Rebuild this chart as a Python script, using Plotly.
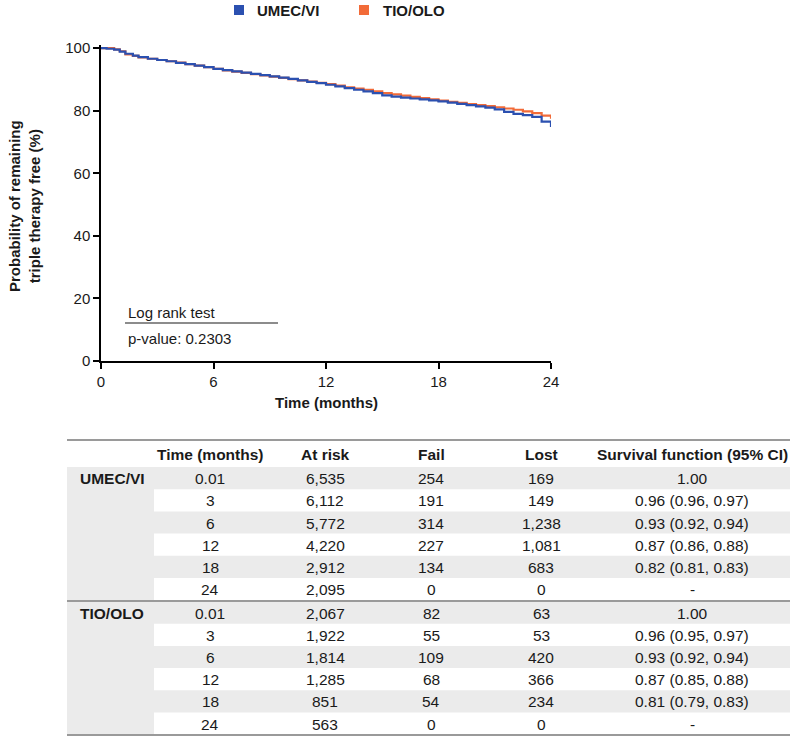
import plotly.graph_objects as go

# ---------------- data ----------------
months = [0, 0.3, 0.7, 1.0, 1.3, 1.7, 2.0, 2.5, 3, 3.5, 4, 4.5, 5, 5.5, 6, 6.5, 7, 7.5, 8, 8.5,
          9, 9.5, 10, 10.5, 11, 11.5, 12, 12.5, 13, 13.5, 14, 14.5, 15, 15.5, 16, 16.5, 17, 17.5,
          18, 18.5, 19, 19.5, 20, 20.5, 21, 21.5, 22, 22.5, 23, 23.5, 24]
umec_vi = [100, 99.8, 99.5, 98.9, 98.2, 97.6, 97.1, 96.6, 96.2, 95.8, 95.3, 94.9, 94.4, 93.9,
           93.4, 93.0, 92.6, 92.2, 91.8, 91.4, 91.0, 90.6, 90.2, 89.7, 89.2, 88.8, 88.3, 87.8,
           87.2, 86.7, 86.2, 85.6, 84.9, 84.5, 84.2, 83.9, 83.6, 83.3, 83.0, 82.6, 82.2, 81.8,
           81.4, 81.0, 80.4, 79.6, 79.0, 78.6, 78.0, 76.5, 74.8]
tio_olo = [100, 100, 99.6, 99.0, 98.0, 97.5, 97.0, 96.6, 96.2, 95.8, 95.4, 94.9, 94.4, 93.9,
           93.4, 92.9, 92.5, 92.1, 91.7, 91.3, 90.9, 90.5, 90.1, 89.7, 89.3, 88.9, 88.5, 88.0,
           87.5, 87.1, 86.7, 86.2, 85.6, 85.2, 84.8, 84.4, 84.0, 83.6, 83.2, 82.8, 82.5, 82.1,
           81.8, 81.5, 81.1, 80.7, 80.3, 79.8, 79.2, 78.4, 77.4]

x_ticks = [0, 6, 12, 18, 24]
y_ticks = [0, 20, 40, 60, 80, 100]

groups = ["UMEC/VI", "TIO/OLO"]
table_header = ["Time (months)", "At risk", "Fail", "Lost", "Survival function (95% CI)"]
time_points = ["0.01", "3", "6", "12", "18", "24"]
umec_at_risk = [6535, 6112, 5772, 4220, 2912, 2095]
umec_fail = [254, 191, 314, 227, 134, 0]
umec_lost = [169, 149, 1238, 1081, 683, 0]
umec_surv = ["1.00", "0.96 (0.96, 0.97)", "0.93 (0.92, 0.94)", "0.87 (0.86, 0.88)",
             "0.82 (0.81, 0.83)", "-"]
tio_at_risk = [2067, 1922, 1814, 1285, 851, 563]
tio_fail = [82, 55, 109, 68, 54, 0]
tio_lost = [63, 53, 420, 366, 234, 0]
tio_surv = ["1.00", "0.96 (0.95, 0.97)", "0.93 (0.92, 0.94)", "0.87 (0.85, 0.88)",
            "0.81 (0.79, 0.83)", "-"]

BLUE = "#2b50b0"
ORANGE = "#f26b38"
TXT = "#1a1a1a"
FONT = "Liberation Sans, Arial, sans-serif"
TFS = 15.5

W, H = 792, 737
L, R, T, B = 101, 241, 45, 376
PW = W - L - R
PH = H - T - B


def px(xp):
    return (xp - L) / PW


def py(yp):
    return (H - B - yp) / PH


fig = go.Figure()
fig.add_trace(go.Scatter(x=months, y=tio_olo, mode="lines", line_shape="hv",
                         line=dict(color=ORANGE, width=2.2), name="TIO/OLO", showlegend=False))
fig.add_trace(go.Scatter(x=months, y=umec_vi, mode="lines", line_shape="hv",
                         line=dict(color=BLUE, width=2.2), name="UMEC/VI", showlegend=False))

shapes = []
ann = []

# legend
shapes.append(dict(type="rect", xref="paper", yref="paper", x0=px(234), x1=px(244),
                   y0=py(15), y1=py(5), fillcolor=BLUE, line=dict(width=0)))
ann.append(dict(xref="paper", yref="paper", x=px(255), y=py(10), text="<b>UMEC/VI</b>",
                showarrow=False, xanchor="left", yanchor="middle", font=dict(size=15, color=TXT)))
shapes.append(dict(type="rect", xref="paper", yref="paper", x0=px(359), x1=px(369),
                   y0=py(15), y1=py(5), fillcolor=ORANGE, line=dict(width=0)))
ann.append(dict(xref="paper", yref="paper", x=px(381), y=py(10), text="<b>TIO/OLO</b>",
                showarrow=False, xanchor="left", yanchor="middle", font=dict(size=15, color=TXT)))

# y-axis title (two lines)
ann.append(dict(xref="paper", yref="paper", x=px(24), y=py(206),
                text="<b>Probability of remaining<br>triple therapy free (%)</b>",
                showarrow=False, textangle=-90, xanchor="center", yanchor="middle",
                font=dict(size=15, color=TXT)))
# x-axis title
ann.append(dict(xref="paper", yref="paper", x=px(326), y=py(402), text="<b>Time (months)</b>",
                showarrow=False, xanchor="center", yanchor="middle", font=dict(size=15, color=TXT)))

# log-rank box
ann.append(dict(xref="paper", yref="paper", x=px(126), y=py(312), text="Log rank test",
                showarrow=False, xanchor="left", yanchor="middle", font=dict(size=15, color=TXT)))
shapes.append(dict(type="line", xref="paper", yref="paper", x0=px(125), x1=px(278),
                   y0=py(323), y1=py(323), line=dict(color="#666666", width=1.5)))
ann.append(dict(xref="paper", yref="paper", x=px(126), y=py(338), text="p-value: 0.2303",
                showarrow=False, xanchor="left", yanchor="middle", font=dict(size=15, color=TXT)))

# ---------------- table ----------------
TL, TR = 67, 790
col_centers = [112, 210, 325, 431, 541, 692]
GRAY = "#ebebeb"
LINE = "#9a9a9a"
row_h = 22.2
header_y = 454
g_tops = [467, 601.5]

group_rows = [
    (umec_at_risk, umec_fail, umec_lost, umec_surv),
    (tio_at_risk, tio_fail, tio_lost, tio_surv),
]

for gi, (gname, rows) in enumerate(zip(groups, group_rows)):
    top = g_tops[gi]
    bottom = top + 6 * row_h
    shapes.append(dict(type="rect", xref="paper", yref="paper", x0=px(TL), x1=px(154),
                       y0=py(bottom), y1=py(top), fillcolor=GRAY, line=dict(width=0), layer="below"))
    at_risk, fail, lost, surv = rows
    for ri in range(6):
        rt = top + ri * row_h
        if ri % 2 == 0:
            shapes.append(dict(type="rect", xref="paper", yref="paper", x0=px(154), x1=px(TR),
                               y0=py(rt + row_h), y1=py(rt), fillcolor=GRAY,
                               line=dict(width=0), layer="below"))
        yc = rt + row_h / 2 + 0.5
        vals = [time_points[ri], f"{at_risk[ri]:,}", f"{fail[ri]:,}", f"{lost[ri]:,}", surv[ri]]
        for ci, v in enumerate(vals):
            ann.append(dict(xref="paper", yref="paper", x=px(col_centers[ci + 1]), y=py(yc),
                            text=v, showarrow=False, xanchor="center", yanchor="middle",
                            font=dict(size=TFS, color=TXT)))
    ann.append(dict(xref="paper", yref="paper", x=px(col_centers[0]), y=py(top + row_h / 2 + 0.5),
                    text=f"<b>{gname}</b>", showarrow=False, xanchor="center", yanchor="middle",
                    font=dict(size=TFS, color=TXT)))

for ci, h in enumerate(table_header):
    ann.append(dict(xref="paper", yref="paper", x=px(col_centers[ci + 1]), y=py(header_y),
                    text=f"<b>{h}</b>", showarrow=False, xanchor="center", yanchor="middle",
                    font=dict(size=TFS, color=TXT)))

for ly in [440, 601, 735]:
    shapes.append(dict(type="line", xref="paper", yref="paper", x0=px(TL), x1=px(TR),
                       y0=py(ly), y1=py(ly), line=dict(color=LINE, width=2)))

fig.update_layout(
    width=W, height=H,
    margin=dict(l=L, r=R, t=T, b=B, pad=0),
    paper_bgcolor="white", plot_bgcolor="white",
    font=dict(family=FONT, size=15, color=TXT),
    showlegend=False,
    shapes=shapes,
    annotations=ann,
    xaxis=dict(range=[0, 24], tickvals=x_ticks, ticktext=[str(v) for v in x_ticks],
               showgrid=False, zeroline=False, showline=True, linecolor="black", linewidth=1.5,
               ticks="outside", ticklen=6, tickwidth=1.5, tickcolor="black",
               tickfont=dict(size=15, color=TXT), fixedrange=True),
    yaxis=dict(range=[0, 101], tickvals=y_ticks, ticktext=[str(v) for v in y_ticks],
               showgrid=False, zeroline=False, showline=True, linecolor="black", linewidth=1.5,
               ticks="outside", ticklen=6, tickwidth=1.5, tickcolor="black",
               tickfont=dict(size=15, color=TXT), fixedrange=True),
)

fig.write_html(
    "out.html",
    config={"displayModeBar": False},
    post_script="document.body.style.margin='0';document.body.style.padding='0';"
                "document.body.style.overflow='hidden';",
)
